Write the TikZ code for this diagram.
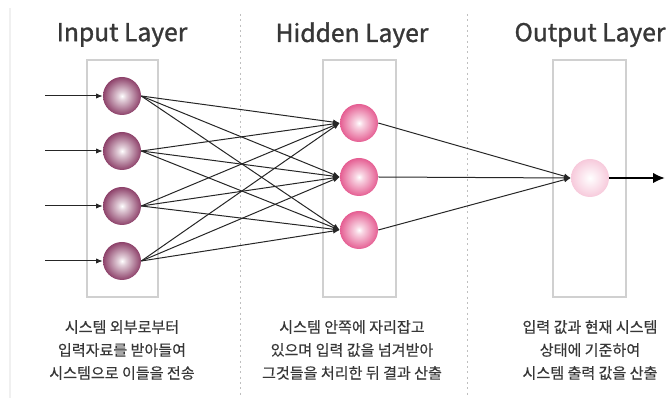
\documentclass[tikz,border=0pt]{standalone}
\usepackage{fontspec}
\setmainfont{Noto Sans CJK KR}
\newfontfamily\headfont[FakeBold=1.2]{Noto Sans CJK KR}
\newfontfamily\notefont[FakeBold=0.4]{Noto Sans CJK KR}
\usetikzlibrary{arrows.meta}

\definecolor{inkgray}{RGB}{55,55,55}
\definecolor{boxgray}{RGB}{208,208,208}
\definecolor{ballin}{RGB}{120,30,78}
\definecolor{ballhid}{RGB}{222,52,118}
\definecolor{ballout}{RGB}{242,170,198}

% centred highlight, darker rim
\pgfdeclareradialshading{inshade}{\pgfpoint{0bp}{0bp}}{color(0bp)=(white); color(5bp)=(white!80!ballin); color(30bp)=(ballin); color(50bp)=(ballin!80!black)}
\pgfdeclareradialshading{hidshade}{\pgfpoint{0bp}{0bp}}{color(0bp)=(white); color(5bp)=(white!80!ballhid); color(32bp)=(ballhid); color(50bp)=(ballhid!90!black)}
\pgfdeclareradialshading{outshade}{\pgfpoint{0bp}{0bp}}{color(0bp)=(white); color(6bp)=(white!85!ballout); color(40bp)=(ballout); color(50bp)=(ballout)}

\tikzset{
  neuron/.style={circle, inner sep=0pt, minimum size=28.5pt},
  inneuron/.style={neuron, shading=inshade},
  hidneuron/.style={neuron, shading=hidshade},
  outneuron/.style={neuron, shading=outshade},
  layerbox/.style={draw=boxgray, line width=1.1pt},
  title/.style={text=inkgray, font=\headfont\fontsize{18.5}{22}\selectfont},
  caption/.style={text=inkgray, align=center, font=\notefont\fontsize{11.3}{17.25}\selectfont},
  link/.style={draw=black!85, line width=0.75pt, -{Latex[length=5pt,width=4pt]}},
}

\begin{document}
\begin{tikzpicture}[x=0.75pt,y=0.75pt,yscale=-1]
  \useasboundingbox (0,0) rectangle (667,398);

  % page rule and column separators
  \draw[line width=1.5pt, black!6] (10,8) -- (10,398);
  \draw[black!25, line width=0.6pt, dash pattern=on 1.5pt off 2.5pt] (240,14) -- (240,398);
  \draw[black!25, line width=0.6pt, dash pattern=on 1.5pt off 2.5pt] (467,14) -- (467,398);

  % layer frames
  \draw[layerbox] (87,60) rectangle (158,297);
  \draw[layerbox] (323,60) rectangle (396,297);
  \draw[layerbox] (553,60) rectangle (626,297);

  % neurons
  \node[inneuron] (in1) at (122,96) {};
  \node[inneuron] (in2) at (122,151) {};
  \node[inneuron] (in3) at (122,206) {};
  \node[inneuron] (in4) at (122,261) {};
  \node[hidneuron] (hid1) at (359,123) {};
  \node[hidneuron] (hid2) at (359,177) {};
  \node[hidneuron] (hid3) at (359,230) {};
  \node[outneuron] (out) at (590,178) {};

  % free ends of the outside arrows
  \foreach \i/\y in {1/96,2/151,3/206,4/261}
    \coordinate (feed\i) at (45,\y);
  \coordinate (result) at (665,178);

  % connections
  \foreach \i in {1,...,4}
    \draw[link] (feed\i) -- (in\i.west);
  \foreach \i in {1,...,4}
    \foreach \j in {1,2,3}
      \draw[link] (in\i.east) -- (hid\j.west);
  \foreach \j in {1,2,3}
    \draw[link] (hid\j.east) -- (out.west);
  \draw[line width=2pt, -{Latex[length=9pt,width=8pt]}] (out.east) -- (result);

  % titles
  \node[title] (intitle) at (122,35) {Input Layer};
  \node[title] (hidtitle) at (352,35) {Hidden Layer};
  \node[title] (outtitle) at (590,35) {Output Layer};

  % descriptions
  \node[caption] (intext) at (122,350) {시스템 외부로부터\\입력자료를 받아들여\\시스템으로 이들을 전송};
  \node[caption] (hidtext) at (352,350) {시스템 안쪽에 자리잡고\\있으며 입력 값을 넘겨받아\\그것들을 처리한 뒤 결과 산출};
  \node[caption] (outtext) at (590,350) {입력 값과 현재 시스템\\상태에 기준하여\\시스템 출력 값을 산출};
\end{tikzpicture}
\end{document}
